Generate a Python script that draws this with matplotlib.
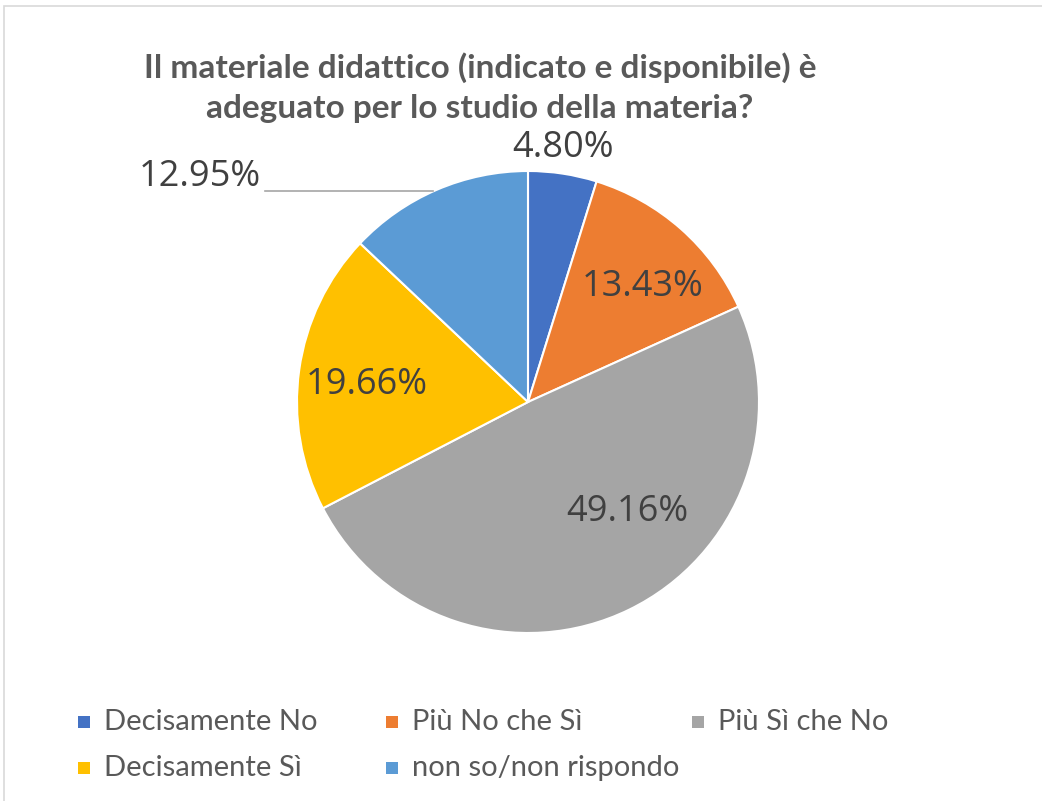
import matplotlib
matplotlib.use("Agg")
import matplotlib.pyplot as plt
from matplotlib.patches import Rectangle
from matplotlib import font_manager

# Data
categories = ["Decisamente No", "Più No che Sì", "Più Sì che No",
              "Decisamente Sì", "non so/non rispondo"]
percentages = [4.80, 13.43, 49.16, 19.66, 12.95]
colors = ["#4472C4", "#ED7D31", "#A5A5A5", "#FFC000", "#5B9BD5"]
title = "Il materiale didattico (indicato e disponibile) è\nadeguato per lo studio della materia?"

# fonts: Calibri-like and Segoe-like substitutes
names = {f.name for f in font_manager.fontManager.ttflist}
narrow = "Lato" if "Lato" in names else "DejaVu Sans"
label_font = "Open Sans" if "Open Sans" in names else "DejaVu Sans"

W, H = 1042, 801
fig = plt.figure(figsize=(W / 100, H / 100), dpi=100)
fig.patch.set_facecolor("white")

# light frame around the chart area
fig.patches.append(Rectangle((4 / W, -0.05), 1.2, 1 - 6 / H + 0.05,
                             transform=fig.transFigure, fill=False,
                             edgecolor="#d9d9d9", linewidth=1.2))

# pie axes: center (528, 402) px, radius 231 px
cx, cy, r = 528, 402, 231
ax = fig.add_axes([(cx - r) / W, (H - cy - r) / H, 2 * r / W, 2 * r / H])
wedges, texts = ax.pie(percentages, colors=colors, startangle=90, counterclock=False,
                       radius=1, wedgeprops=dict(edgecolor="white", linewidth=1.5))
ax.set_xlim(-1, 1)
ax.set_ylim(-1, 1)
ax.set_aspect("equal")
ax.axis("off")

# data label positions (axes data coords, layout only)
label_pos = [(0.15, 1.10), (0.494, 0.50), (0.43, -0.475), (-0.70, 0.075), (-1.42, 0.975)]
for val, (lx, ly) in zip(percentages, label_pos):
    ax.text(lx, ly, f"{val:.2f}%", ha="center", va="center", fontsize=26,
            family=label_font, color="#404040", clip_on=False)

# leader line for the small slice on the left
ax.plot([-1.14, -0.41], [0.913, 0.913], color="#a6a6a6", linewidth=1.2, clip_on=False)

# title
fig.text(480 / W, 1 - 88 / H, title, ha="center", va="center", fontsize=24,
         fontweight="bold", family=narrow, color="#595959", linespacing=1.45)

# legend, row-major like the original
leg_pos = [(78, 722), (386, 722), (692, 722), (78, 768), (386, 768)]
for cat, col, (mx, my) in zip(categories, colors, leg_pos):
    fig.patches.append(Rectangle((mx / W, (H - my - 6) / H), 12 / W, 12 / H,
                                 transform=fig.transFigure, facecolor=col, edgecolor="none"))
    fig.text((mx + 26) / W, 1 - my / H, cat, ha="left", va="center", fontsize=21,
             family=narrow, color="#595959")

fig.savefig("out.png", dpi=100, facecolor="white")
